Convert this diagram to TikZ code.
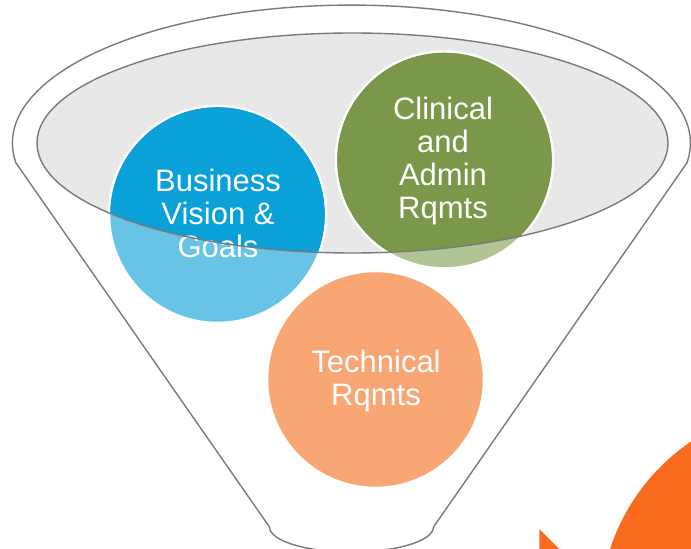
\documentclass[tikz,border=0pt]{standalone}
\usepackage{fontspec}
\setmainfont{Liberation Sans}
\definecolor{funnelline}{HTML}{7A7A7A}
\definecolor{funnelgray}{HTML}{E8E8E8}
\definecolor{bizfull}{HTML}{0AA0D8}
\definecolor{bizlight}{HTML}{67C4E7}
\definecolor{clinfull}{HTML}{7A974A}
\definecolor{clinlight}{HTML}{B0C495}
\definecolor{techfill}{HTML}{F9A675}
\definecolor{orangeacc}{HTML}{F96B1E}
\begin{document}
\begin{tikzpicture}[x=1pt,y=1pt,
  funnelstroke/.style={draw=funnelline, line width=1.4pt},
  bubble/.style={circle, draw=white, line width=2.5pt, minimum size=217pt, inner sep=0pt},
  bubbletext/.style={text=white, align=center, font=\fontsize{31}{33}\selectfont, inner sep=0pt}]
\useasboundingbox (0,0) rectangle (691,549);
\begin{scope}
\clip (0,0) rectangle (691,549);
% orange accents
\fill[orangeacc] (807,-64) circle (207);
\fill[orangeacc] (539.3,19.7) -- (559.3,0) -- (539.3,0) -- cycle;
% funnel outline
\draw[funnelstroke, line join=round] (16,386) arc[start angle=188.3, end angle=-8.3, x radius=339, y radius=138]
  -- (433.5,22) arc[start angle=0, end angle=-180, x radius=82, y radius=25] -- cycle;
% inner ellipse fill
\fill[funnelgray] (352.5,406) ellipse[x radius=315.5, y radius=110];
% bubbles (light parts)
\node[bubble, fill=bizlight] (biz) at (217.5,334.5) {};
\node[bubble, fill=clinlight] (clin) at (444.5,389) {};
\node[bubble, fill=techfill] (tech) at (375.5,169.5) {};
% bubbles (full colour inside the ellipse)
\begin{scope}
\clip (352.5,406) ellipse[x radius=315.5, y radius=110];
\fill[bizfull] (biz.center) circle (107.3);
\fill[clinfull] (clin.center) circle (107.3);
\end{scope}
% labels
\node[bubbletext] (biztext) at (218,336) {Business\\Vision \&\\Goals};
\node[bubbletext] (clintext) at (443,388) {Clinical\\and\\Admin\\Rqmts};
\node[bubbletext] (techtext) at (376,168) {Technical\\Rqmts};
% inner ellipse outline on top
\draw[funnelstroke] (352.5,406) ellipse[x radius=315.5, y radius=110];
\end{scope}
\end{tikzpicture}
\end{document}
